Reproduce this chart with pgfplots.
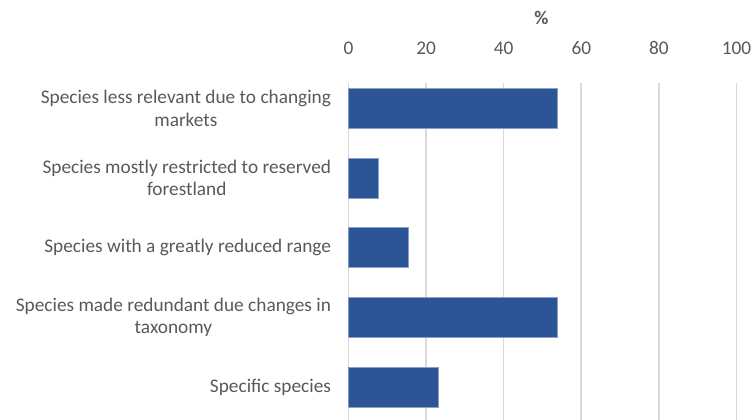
\documentclass[border=0pt]{standalone}
\usepackage{pgfplots}
\pgfplotsset{compat=1.18}
\usepackage{fontspec}
\setmainfont{Carlito}
\definecolor{barblue}{HTML}{2B5597}
\definecolor{txt}{HTML}{595959}
\definecolor{gridc}{HTML}{D9D9D9}
\begin{document}
\begin{tikzpicture}
\useasboundingbox (-348.5pt,0pt) rectangle (403.5pt,420pt);
\begin{axis}[name=ax, at={(0pt,0pt)}, anchor=south west,
  scale only axis, width=388pt, height=337pt,
  xmin=0, xmax=100, ymin=-0.363, ymax=4.472, y dir=reverse,
  xbar, bar width=0.574,
  xtick={0,20,...,100}, ytick={0,1,2,3,4},
  yticklabels={{Species less relevant due to changing\\markets},
               {Species mostly restricted to reserved\\forestland},
               {Species with a greatly reduced range},
               {Species made redundant due changes in\\taxonomy},
               {Specific species}},
  xticklabel pos=upper,
  axis line style={draw=none}, major tick length=0pt,
  xmajorgrids, grid style={gridc, line width=1.6pt},
  tick label style={font=\fontsize{19.3}{22.5}\selectfont, text=txt},
  yticklabel style={align=center, anchor=east, xshift=-14pt},
  xticklabel style={anchor=base, yshift=29pt},
  /pgf/number format/assume math mode=true,
]
\addplot[fill=barblue, draw=barblue!55!white, line width=0.6pt] coordinates {
  (53.8,0) (7.7,1) (15.4,2) (53.8,3) (23.1,4)};
\end{axis}
\node[anchor=base, font=\fontsize{19.3}{22.5}\selectfont\bfseries, text=txt] at (193pt,395pt) {\%};
\end{tikzpicture}
\end{document}
